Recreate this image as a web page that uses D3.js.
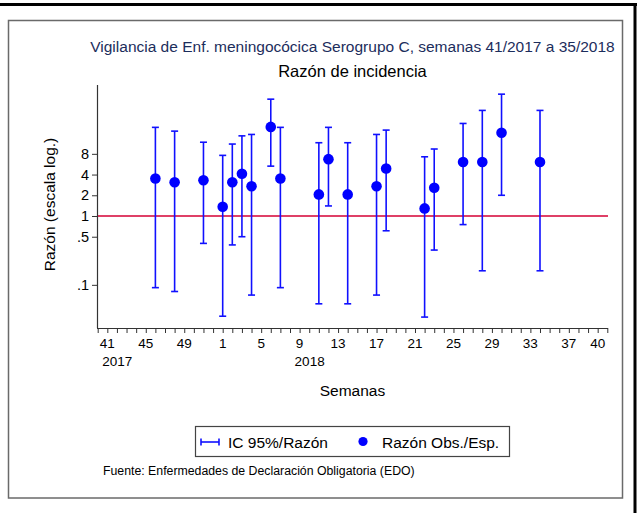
<!DOCTYPE html>
<html>
<head>
<meta charset="utf-8">
<script src="https://cdn.jsdelivr.net/npm/d3@7"></script>
<style>
  body { margin: 0; background: #fff; }
  svg { display: block; font-family: "Liberation Sans", Arial, sans-serif; }
</style>
</head>
<body>
<svg id="chart" width="637" height="513"></svg>
<script>
"use strict";

// weeks with data (year / week)
const anio = [2017, 2017, 2017, 2018, 2018, 2018, 2018, 2018, 2018, 2018,
              2018, 2018, 2018, 2018, 2018, 2018, 2018, 2018, 2018, 2018];
const semana = [46, 48, 51, 1, 2, 3, 4, 6, 7, 11,
                12, 14, 17, 18, 22, 23, 26, 28, 30, 34];
// observed / expected ratio and 95% CI
const razon = [3.5, 3.1, 3.3, 1.36, 3.1, 4.1, 2.7, 19.7, 3.5, 2.06,
               6.7, 2.06, 2.7, 4.9, 1.29, 2.57, 6.1, 6.1, 16.2, 6.1];
const icInf = [0.091, 0.080, 0.40, 0.035, 0.38, 0.50, 0.071, 5.3, 0.091, 0.053,
               1.4, 0.053, 0.071, 0.61, 0.034, 0.32, 0.75, 0.16, 2.0, 0.16];
const icSup = [19.4, 17.1, 11.8, 7.6, 11.1, 14.6, 15.3, 49.8, 19.4, 11.6,
               19.4, 11.6, 15.3, 17.7, 7.25, 9.4, 22.1, 34.2, 58.9, 34.2];

// axis labels
const xTickWeeks = [41, 45, 49, 1, 5, 9, 13, 17, 21, 25, 29, 33, 37, 40];
const xTickYears = [2017, 2017, 2017, 2018, 2018, 2018, 2018, 2018, 2018, 2018, 2018, 2018, 2018, 2018];
const yearLabels = [[41, 2017, "2017"], [9, 2018, "2018"]];
const yTicks = [8, 4, 2, 1, 0.5, 0.1];
const yTickLabels = ["8", "4", "2", "1", ".5", ".1"];

// week 41/2017 -> 0
function weekIndex(w, y) { return y === 2017 ? w - 41 : w + 11; }

const svg = d3.select("#chart");

// outer frame
svg.append("line").attr("x1", 0).attr("x2", 637).attr("y1", 4.5).attr("y2", 4.5)
  .attr("stroke", "#000").attr("stroke-width", 3);
svg.append("line").attr("x1", 635).attr("x2", 635).attr("y1", 3).attr("y2", 513)
  .attr("stroke", "#000").attr("stroke-width", 3);
svg.append("rect").attr("x", 8.5).attr("y", 20.5).attr("width", 614).attr("height", 477.5)
  .attr("fill", "none").attr("stroke", "#6a6a6a").attr("stroke-width", 1.5);

const plotLeft = 97, plotRight = 608, plotTop = 85, plotBottom = 328;

const x = d3.scaleLinear().domain([-1, 52]).range([97.7, 607.3]);
const y = d3.scaleLog().domain([0.0236, 80]).range([plotBottom, plotTop]);

// titles
const cx = (plotLeft + plotRight) / 2;
svg.append("text").attr("x", cx).attr("y", 52).attr("text-anchor", "middle")
  .attr("font-size", 15.5).attr("fill", "#1c2d5c")
  .text("Vigilancia de Enf. meningocócica Serogrupo C, semanas 41/2017 a 35/2018");
svg.append("text").attr("x", cx).attr("y", 77).attr("text-anchor", "middle")
  .attr("font-size", 16.5).attr("fill", "#000")
  .text("Razón de incidencia");

// y axis
const yAxis = d3.axisLeft(y).tickValues(yTicks)
  .tickFormat((d, i) => yTickLabels[i]).tickSize(5).tickSizeOuter(0);
const gy = svg.append("g").attr("transform", `translate(${plotLeft},0)`).call(yAxis);
gy.select(".domain").attr("d", `M0.5,${plotTop}V${plotBottom}`).attr("stroke", "#333").attr("stroke-width", 1.2);
gy.selectAll(".tick line").attr("stroke", "#333");
gy.selectAll(".tick text").attr("font-size", 14.5).attr("fill", "#000")
  .attr("font-family", "Liberation Sans, Arial, sans-serif");

svg.append("text")
  .attr("transform", `translate(55,${(plotTop + plotBottom) / 2 - 2}) rotate(-90)`)
  .attr("text-anchor", "middle").attr("font-size", 15.5).attr("fill", "#000")
  .text("Razón (escala log.)");

// x axis
const allWeeks = d3.range(-1, 53);
const xAxis = d3.axisBottom(x).tickValues(allWeeks).tickFormat("").tickSize(5).tickSizeOuter(0);
const gx = svg.append("g").attr("transform", `translate(0,${plotBottom})`).call(xAxis);
gx.select(".domain").attr("d", `M${plotLeft},0.5H${plotRight}`).attr("stroke", "#333").attr("stroke-width", 1.2);
gx.selectAll(".tick line").attr("stroke", "#333");

svg.append("g").selectAll("text").data(xTickWeeks).join("text")
  .attr("x", (d, i) => x(weekIndex(d, xTickYears[i])))
  .attr("y", 348).attr("text-anchor", "middle")
  .attr("font-size", 13.5).attr("fill", "#000")
  .text(d => d);

svg.append("g").selectAll("text").data(yearLabels).join("text")
  .attr("x", d => x(weekIndex(d[0], d[1])) - 5)
  .attr("y", 366).attr("font-size", 13.5).attr("fill", "#000")
  .text(d => d[2]);

svg.append("text").attr("x", cx).attr("y", 396).attr("text-anchor", "middle")
  .attr("font-size", 15.5).attr("fill", "#000").text("Semanas");

// reference line at 1
svg.append("line").attr("x1", plotLeft + 1).attr("x2", plotRight)
  .attr("y1", y(1)).attr("y2", y(1))
  .attr("stroke", "#d40035").attr("stroke-width", 1.6);

// error bars
const idx = d3.range(razon.length);
const px = i => x(weekIndex(semana[i], anio[i]));
const bars = svg.append("g").attr("stroke", "#1010ff").attr("stroke-width", 1.6);
bars.selectAll("line.v").data(idx).join("line").attr("class", "v")
  .attr("x1", px).attr("x2", px)
  .attr("y1", i => y(icInf[i])).attr("y2", i => y(icSup[i]));
bars.selectAll("line.lo").data(idx).join("line").attr("class", "lo")
  .attr("x1", i => px(i) - 3.5).attr("x2", i => px(i) + 3.5)
  .attr("y1", i => y(icInf[i])).attr("y2", i => y(icInf[i]));
bars.selectAll("line.hi").data(idx).join("line").attr("class", "hi")
  .attr("x1", i => px(i) - 3.5).attr("x2", i => px(i) + 3.5)
  .attr("y1", i => y(icSup[i])).attr("y2", i => y(icSup[i]));

// points
svg.append("g").selectAll("circle").data(idx).join("circle")
  .attr("cx", px)
  .attr("cy", i => y(razon[i]))
  .attr("r", 5.3).attr("fill", "#0000ff");

// legend
const lg = svg.append("g");
lg.append("rect").attr("x", 195.5).attr("y", 426.5).attr("width", 314).attr("height", 30)
  .attr("fill", "#fff").attr("stroke", "#444").attr("stroke-width", 1.2);
lg.append("line").attr("x1", 201).attr("x2", 219).attr("y1", 442).attr("y2", 442)
  .attr("stroke", "#1010ff").attr("stroke-width", 1.6);
lg.append("line").attr("x1", 201).attr("x2", 201).attr("y1", 438.5).attr("y2", 445.5)
  .attr("stroke", "#1010ff").attr("stroke-width", 1.6);
lg.append("line").attr("x1", 219).attr("x2", 219).attr("y1", 438.5).attr("y2", 445.5)
  .attr("stroke", "#1010ff").attr("stroke-width", 1.6);
lg.append("text").attr("x", 228).attr("y", 447.5).attr("font-size", 15.5).text("IC 95%/Razón");
lg.append("circle").attr("cx", 363).attr("cy", 441.5).attr("r", 4.6).attr("fill", "#0000ff");
lg.append("text").attr("x", 382).attr("y", 447.5).attr("font-size", 15.5).text("Razón Obs./Esp.");

// source note
svg.append("text").attr("x", 103).attr("y", 475).attr("font-size", 12.3).attr("fill", "#000")
  .text("Fuente: Enfermedades de Declaración Obligatoria (EDO)");
</script>
</body>
</html>
